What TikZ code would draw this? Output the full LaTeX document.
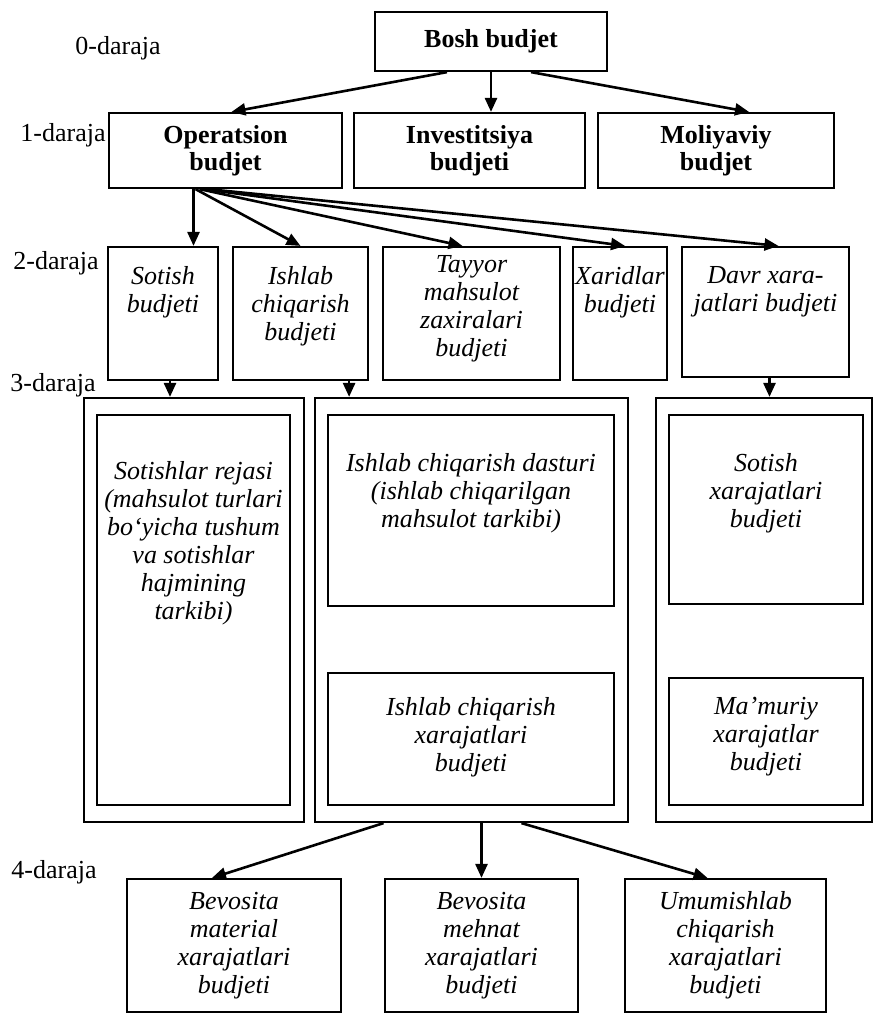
\documentclass[tikz,border=0pt]{standalone}
\usepackage{fontspec}
\setmainfont{Liberation Serif}
\usepackage{tikz}
\usetikzlibrary{arrows.meta}

\begin{document}
\begin{tikzpicture}[x=0.5pt, y=-0.5pt,
		box/.style={draw, line width=1.1pt, inner sep=0pt},
		arr/.style={line width=1.3pt, -{Triangle[length=7pt,width=6pt]}},
		boldtxt/.style={align=center, font=\fontsize{13}{13.5}\selectfont\bfseries},
		itxt/.style={align=center, inner sep=0pt, font=\fontsize{13}{14}\selectfont\itshape},
		lvl/.style={font=\fontsize{13}{14}\selectfont, inner sep=0pt}]
	
		\useasboundingbox (0,0) rectangle (875,1014);
	
		% Level labels
		\node[lvl] (lvl0) at (118,48) {0-daraja};
		\node[lvl, anchor=east] (lvl1) at (106,135) {1-daraja};
		\node[lvl] (lvl2) at (56,263) {2-daraja};
		\node[lvl] (lvl3) at (53,385) {3-daraja};
		\node[lvl] (lvl4) at (54,872) {4-daraja};
	
		% Level 0
		\node[box, boldtxt, minimum width=116pt, minimum height=29.5pt] (bosh) at (491,41.5) {Bosh budjet};
	
		% Level 1
		\node[box, boldtxt, minimum width=116.5pt, minimum height=37.5pt] (oper) at (225.5,150.5) {Operatsion\\budjet};
		\node[box, boldtxt, minimum width=115.5pt, minimum height=37.5pt] (inv) at (469.5,150.5) {Investitsiya\\budjeti};
		\node[box, boldtxt, minimum width=118pt, minimum height=37.5pt] (mol) at (716,150.5) {Moliyaviy\\budjet};
	
		% Level 2 boxes
		\node[box, minimum width=55pt, minimum height=66.5pt] (sot) at (163,313.5) {};
		\node[box, minimum width=67.5pt, minimum height=66.5pt] (ish) at (300.5,313.5) {};
		\node[box, minimum width=88.5pt, minimum height=66.5pt] (tay) at (471.5,313.5) {};
		\node[box, minimum width=47pt, minimum height=66.5pt] (xar) at (620,313.5) {};
		\node[box, minimum width=83.5pt, minimum height=65pt] (davr) at (765.5,312) {};
	
		% Level 2 texts
		\node[itxt, anchor=north] (sott) at (163,266) {Sotish\\budjeti};
		\node[itxt, anchor=north] (isht) at (300.5,266) {Ishlab\\chiqarish\\budjeti};
		\node[itxt, anchor=north] (tayt) at (471.5,255) {Tayyor\\mahsulot\\zaxiralari\\budjeti};
		\node[itxt, anchor=north] (xart) at (620,266) {Xaridlar\\budjeti};
		\node[itxt, anchor=north] (davrt) at (765.5,266) {Davr xara-\\jatlari budjeti};
	
		% Level 3 outer boxes
		\node[box, minimum width=110pt, minimum height=212pt] (grpa) at (194,610) {};
		\node[box, minimum width=156.5pt, minimum height=212pt] (grpb) at (471.5,610) {};
		\node[box, minimum width=108pt, minimum height=212pt] (grpc) at (764,610) {};
	
		% Level 3 inner boxes
		\node[box, minimum width=96.5pt, minimum height=195pt] (rej) at (193.5,610) {};
		\node[box, minimum width=143pt, minimum height=95.5pt] (dast) at (471,510.5) {};
		\node[box, minimum width=143pt, minimum height=66pt] (ichx) at (471,739) {};
		\node[box, minimum width=97pt, minimum height=94.5pt] (sotx) at (766,509.5) {};
		\node[box, minimum width=97pt, minimum height=63.5pt] (mam) at (766,741.5) {};
	
		% Level 3 texts
		\node[itxt] (rejt) at (193.5,543) {Sotishlar rejasi\\(mahsulot turlari\\bo‘yicha tushum\\va sotishlar\\hajmining\\tarkibi)};
		\node[itxt] (dastt) at (471,493) {Ishlab chiqarish dasturi\\(ishlab chiqarilgan\\mahsulot tarkibi)};
		\node[itxt] (ichxt) at (471,737) {Ishlab chiqarish\\xarajatlari\\budjeti};
		\node[itxt] (sotxt) at (766,493) {Sotish\\xarajatlari\\budjeti};
		\node[itxt] (mamt) at (766,737) {Ma’muriy\\xarajatlar\\budjeti};
	
		% Level 4
		\node[box, itxt, minimum width=107pt, minimum height=66.5pt] (bmat) at (234,945.5) {Bevosita\\material\\xarajatlari\\budjeti};
		\node[box, itxt, minimum width=96.5pt, minimum height=66.5pt] (bmeh) at (481.5,945.5) {Bevosita\\mehnat\\xarajatlari\\budjeti};
		\node[box, itxt, minimum width=100.5pt, minimum height=66.5pt] (umum) at (725.5,945.5) {Umumishlab\\chiqarish\\xarajatlari\\budjeti};
	
		% Arrows from level 0
		\draw[arr] ([xshift=-22pt]bosh.south) -- ([xshift=3pt]oper.north);
		\draw[arr] (bosh.south) -- (bosh.south |- inv.north);
		\draw[arr] ([xshift=20pt]bosh.south) -- ([xshift=16.5pt]mol.north);
	
		% Arrows from level 1
		\draw[arr] ([xshift=-16pt]oper.south) -- ([xshift=-16pt]oper.south |- sot.north);
		\draw[arr] ([xshift=-15pt]oper.south) -- (ish.north);
		\draw[arr] ([xshift=-13pt]oper.south) -- ([xshift=-4.5pt]tay.north);
		\draw[arr] ([xshift=-11pt]oper.south) -- ([xshift=2.5pt]xar.north);
		\draw[arr] ([xshift=-9pt]oper.south) -- ([xshift=6.5pt]davr.north);
	
		% Arrows from level 2
		\draw[arr] ([xshift=3.5pt]sot.south) -- ([xshift=3.5pt]sot.south |- grpa.north);
		\draw[arr] ([xshift=-10pt]ish.south east) -- ([xshift=-10pt]ish.south east |- grpb.north);
		\draw[arr] ([xshift=2pt]davr.south) -- ([xshift=2pt]davr.south |- grpc.north);
	
		% Arrows to level 4
		\draw[arr] ([xshift=-44pt]grpb.south) -- ([xshift=-11pt]bmat.north);
		\draw[arr] ([xshift=5pt]grpb.south) -- ([xshift=5pt]grpb.south |- bmeh.north);
		\draw[arr] ([xshift=25pt]grpb.south) -- ([xshift=-9pt]umum.north);
	
	\end{tikzpicture}
\end{document}
